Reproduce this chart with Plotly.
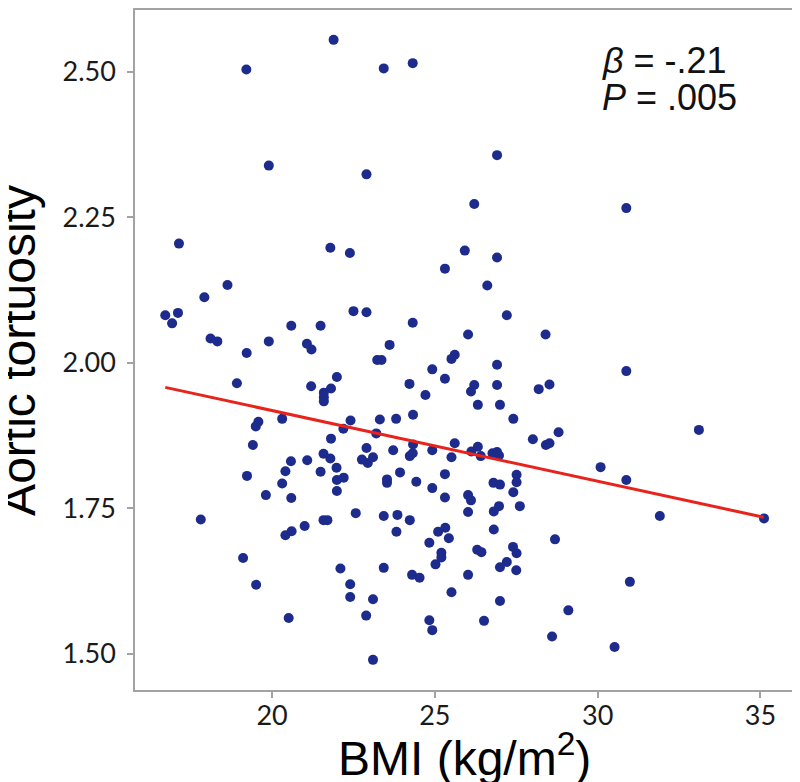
import plotly.graph_objects as go

# BMI vs aortic tortuosity
bmi = [
    21.89, 19.21, 23.43, 24.32, 19.90, 22.90, 17.14, 21.79, 22.39, 26.91,
    26.21, 30.88, 25.92, 26.91, 18.63, 17.92, 16.72, 17.11, 16.93, 20.59,
    21.49, 22.50, 22.90, 25.31, 26.61, 24.32, 27.21, 26.02, 28.40, 18.11,
    18.32, 19.22, 19.90, 21.07, 21.21, 23.61, 23.23, 23.36, 18.92, 21.20,
    21.99, 21.81, 21.59, 21.59, 21.59, 19.58, 19.50, 20.31, 22.41, 22.19,
    21.81, 19.41, 20.58, 21.08, 21.58, 21.79, 20.41, 21.49, 21.98, 22.20,
    21.99, 19.23, 20.31, 21.99, 19.81, 20.59, 22.57, 25.61, 25.51, 24.92,
    25.31, 26.91, 24.22, 24.71, 26.21, 26.11, 26.91, 26.32, 27.00, 28.19,
    28.52, 24.33, 23.31, 23.81, 27.41, 23.20, 28.01, 28.80, 28.41, 28.52,
    22.90, 23.72, 24.33, 24.23, 24.32, 24.92, 25.61, 25.51, 26.12, 26.32,
    26.41, 26.77, 26.91, 26.97, 22.76, 22.94, 23.10, 23.93, 23.53, 23.53,
    24.43, 25.31, 24.92, 25.31, 26.02, 26.11, 26.80, 27.00, 27.51, 27.51,
    27.41, 26.97, 27.61, 30.88, 33.11, 30.09, 30.88, 31.91, 35.11, 17.81,
    21.58, 21.70, 23.43, 23.85, 24.23, 26.02, 26.81, 23.82, 25.10, 25.32,
    25.43, 24.83, 26.81, 25.20, 25.20, 25.02, 26.30, 26.43, 27.40, 27.51,
    27.21, 27.00, 27.50, 28.69, 23.43, 24.30, 24.53, 26.02, 25.51, 27.00,
    29.10, 23.10, 22.89, 24.83, 24.92, 26.51, 28.60, 23.10, 30.99, 30.52,
    20.41, 20.60, 21.00, 19.11, 22.10, 19.51, 22.40, 22.40, 20.51,
]
tortuosity = [
    2.555, 2.504, 2.506, 2.515, 2.339, 2.324, 2.205, 2.198, 2.189, 2.357,
    2.273, 2.266, 2.193, 2.181, 2.134, 2.113, 2.082, 2.086, 2.068, 2.064,
    2.064, 2.089, 2.087, 2.162, 2.133, 2.069, 2.082, 2.049, 2.049, 2.042,
    2.037, 2.017, 2.037, 2.033, 2.023, 2.031, 2.005, 2.005, 1.965, 1.960,
    1.976, 1.956, 1.949, 1.941, 1.934, 1.899, 1.891, 1.904, 1.901, 1.887,
    1.870, 1.859, 1.831, 1.833, 1.844, 1.836, 1.814, 1.813, 1.820, 1.803,
    1.799, 1.806, 1.793, 1.780, 1.773, 1.768, 1.742, 2.014, 2.007, 1.989,
    1.973, 1.997, 1.964, 1.945, 1.962, 1.951, 1.962, 1.928, 1.928, 1.955,
    1.963, 1.911, 1.903, 1.904, 1.904, 1.879, 1.869, 1.881, 1.859, 1.862,
    1.854, 1.850, 1.860, 1.840, 1.845, 1.850, 1.862, 1.838, 1.848, 1.856,
    1.840, 1.845, 1.847, 1.841, 1.834, 1.828, 1.838, 1.812, 1.800, 1.794,
    1.796, 1.809, 1.785, 1.769, 1.773, 1.764, 1.794, 1.791, 1.808, 1.795,
    1.778, 1.754, 1.754, 1.986, 1.885, 1.821, 1.799, 1.737, 1.733, 1.731,
    1.730, 1.730, 1.737, 1.739, 1.730, 1.744, 1.745, 1.710, 1.710, 1.717,
    1.699, 1.691, 1.714, 1.674, 1.666, 1.654, 1.679, 1.675, 1.684, 1.673,
    1.658, 1.649, 1.644, 1.697, 1.648, 1.636, 1.631, 1.636, 1.606, 1.591,
    1.575, 1.594, 1.566, 1.558, 1.541, 1.557, 1.530, 1.490, 1.624, 1.512,
    1.704, 1.711, 1.720, 1.665, 1.647, 1.619, 1.620, 1.598, 1.562,
]

# regression line end points
fit_x = [16.72, 35.10]
fit_y = [1.958, 1.735]

y_ticks = [1.50, 1.75, 2.00, 2.25, 2.50]
x_ticks = [20, 25, 30, 35]

stats_lines = ['<i>β</i> = -.21', '<i>P</i> = .005']

fig = go.Figure()
fig.add_trace(go.Scatter(
    x=bmi, y=tortuosity, mode='markers',
    marker=dict(size=10, color='#1d2b8c'),
    showlegend=False,
))
fig.add_trace(go.Scatter(
    x=fit_x, y=fit_y, mode='lines',
    line=dict(color='#e8231c', width=3),
    showlegend=False,
))

# the two stats lines, placed separately
for txt, yp in zip(stats_lines, [0.926, 0.871]):
    fig.add_annotation(
        xref='paper', yref='paper', x=0.707, y=yp,
        xanchor='left', yanchor='middle', showarrow=False,
        text=txt,
        font=dict(family='Arial, Liberation Sans', size=36, color='#111'),
    )

title_font = dict(family='Arial, Liberation Sans', size=48, color='#000')

# axis titles as annotations so they can sit close to the page edges
fig.add_annotation(
    xref='paper', yref='paper', x=-0.178, y=0.5,
    xanchor='center', yanchor='middle', showarrow=False,
    text='Aortic tortuosity', textangle=-90, font=title_font,
)
fig.add_annotation(
    xref='paper', yref='paper', x=0.5, y=-0.0956,
    xanchor='center', yanchor='middle', showarrow=False,
    text='BMI (kg/m<sup>2</sup>)', font=title_font,
)

axis_common = dict(
    showline=True, linecolor='#a3a3a3', linewidth=1.5, mirror=True,
    ticks='outside', ticklen=6, tickwidth=1.5, tickcolor='#a3a3a3',
    showgrid=False, zeroline=False, automargin=False,
    tickfont=dict(family='Lato, Open Sans', size=27, color='#1a1a1a'),
)

fig.update_xaxes(
    range=[15.79, 36.0], tickvals=x_ticks, ticklabelstandoff=-5,
    **axis_common,
)
fig.update_yaxes(
    range=[1.4382, 2.6063], tickvals=y_ticks, tickformat='.2f',
    ticklabelstandoff=6,
    **axis_common,
)

# the page body adds an 8px offset, so margins are shifted to compensate
fig.update_layout(
    width=800, height=782,
    margin=dict(l=127, r=15, t=2, b=100, autoexpand=False),
    plot_bgcolor='white', paper_bgcolor='white',
)

fig.write_html("out.html")
